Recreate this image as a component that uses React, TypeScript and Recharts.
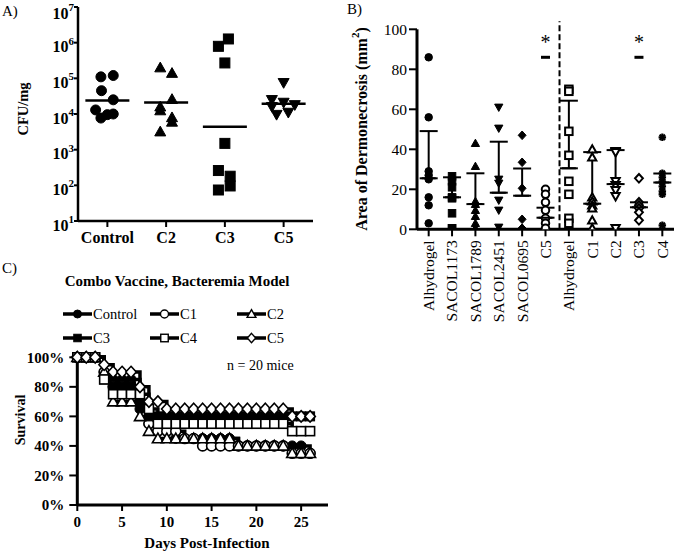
import React from 'react'
import {
  ScatterChart, Scatter, LineChart, Line, XAxis, YAxis, ErrorBar, ReferenceLine,
} from 'recharts'

const SERIF = "'Liberation Serif', 'Times New Roman', serif"

// ---- A) CFU/mg (log)
const groupsA = ['Control', 'C2', 'C3', 'C5']
const controlCfu = [1.1e5, 1.2e5, 4.5e4, 2.5e4, 1.3e4, 7.7e3, 9.6e3, 1e4]
const c2Cfu = [2e5, 1.4e5, 2.6e4, 1.6e4, 1.25e4, 8e3, 6e3, 3.2e3]
const c3Cfu = [7.9e5, 1.27e6, 2.7e5, 1.5e3, 260, 180, 96, 74]
const c5Cfu = [7.5e4, 1.8e4, 2.5e4, 2.1e4, 1.6e4, 9.6e3, 1.1e4]
const mediansA = [2.4e4, 2.1e4, 4.4e3, 1.95e4]
const logTicks = [1e1, 1e2, 1e3, 1e4, 1e5, 1e6, 1e7]

// ---- B) dermonecrosis area
const groupsB = ['Alhydrogel', 'SACOL1173', 'SACOL1789', 'SACOL2451', 'SACOL0695', 'C5',
  'Alhydrogel', 'C1', 'C2', 'C3', 'C4']
const alhydrogel1 = [86, 56, 29, 27, 25, 16, 12, 3]
const sacol1173 = [26.5, 24, 21, 16, 15.5, 8, 0.5, 0.5]
const sacol1789 = [43, 31.5, 14, 12.5, 9.5, 6.5, 3, 0.5]
const sacol2451 = [61, 50.5, 25, 23, 14.5, 9.5, 1]
const sacol0695 = [47, 33.5, 20.5, 5, 0.5, 0.5]
const c5Derm = [20, 17.5, 13.5, 9.5, 5.5, 3, 0.5]
const alhydrogel2 = [70, 69, 49, 37, 24, 17.5, 5.5, 3]
const c1Derm = [40, 36, 16, 14, 12, 10.5, 4.5, 0.5]
const c2Derm = [39, 38.5, 24, 22, 19.5, 16.5, 0.5]
const c3Derm = [25.5, 13.5, 12, 10.5, 8.5, 4.5]
const c4Derm = [46, 28, 26, 24, 21.5, 19, 17.5, 2]
const meansB = [25.5, 16, 12.6, 18.3, 16.8, 5.8, 30.5, 12.8, 22.6, 11, 23.4]
const sdsB = [23.6, 10, 15.4, 25.5, 13.6, 5, 33.8, 25.8, 17, 2.5, 4.5]
const sigGroups = [5, 9]
const sigStar = 95
const sigDash = 86

// ---- C) survival
const days = [0, 1, 2, 3, 4, 5, 6, 7, 8, 9, 10, 11, 12, 13, 14, 15, 16, 17, 18, 19, 20, 21, 22, 23, 24, 25, 26]
const controlSurv = [100, 100, 100, 90, 85, 85, 85, 65, 55, 50, 50, 45, 45, 45, 45, 45, 45, 45, 40, 40, 40, 40, 40, 40, 40, 40, 35]
const c1Surv = [100, 100, 100, 90, 80, 80, 80, 70, 55, 50, 50, 50, 45, 45, 40, 40, 40, 40, 40, 40, 40, 40, 40, 40, 35, 35, 35]
const c2Surv = [100, 100, 100, 90, 70, 70, 70, 60, 50, 45, 45, 45, 45, 45, 45, 45, 45, 45, 40, 40, 40, 40, 40, 40, 35, 35, 35]
const c3Surv = [100, 100, 100, 85, 80, 80, 80, 70, 60, 60, 60, 60, 60, 60, 60, 60, 60, 60, 60, 60, 60, 60, 60, 60, 60, 60, 60]
const c4Surv = [100, 100, 100, 85, 75, 75, 75, 75, 65, 55, 55, 55, 55, 55, 55, 55, 55, 55, 55, 55, 55, 55, 55, 55, 50, 50, 50]
const c5Surv = [100, 100, 100, 95, 90, 90, 90, 80, 70, 70, 65, 65, 65, 65, 65, 65, 65, 65, 65, 65, 65, 65, 65, 65, 60, 60, 60]

// horizontal spread of the dots in panel A (fraction of a category)
const jitterA = [
  [-0.11, 0.1, -0.1, 0.1, -0.2, -0.11, 0, 0.1],
  [-0.1, 0.1, 0.1, -0.1, -0.1, 0.1, 0.1, -0.1],
  [-0.11, 0.06, 0, 0, -0.11, 0.09, 0.09, -0.11],
  [0, 0.19, -0.2, 0, -0.2, -0.12, 0.08],
]

type Kind = 'circle' | 'square' | 'triangle' | 'triangleDown' | 'diamond' | 'asterisk'

function Marker({ kind, cx, cy, s, open, sw = 1.6 }: { kind: Kind; cx: number; cy: number; s: number; open?: boolean; sw?: number }) {
  if (cx == null || cy == null) return null
  const h = s / 2
  const p = { fill: open ? '#fff' : '#000', stroke: '#000', strokeWidth: open ? sw : 1 }
  switch (kind) {
    case 'circle':
      return <circle cx={cx} cy={cy} r={h} {...p} />
    case 'square':
      return <rect x={cx - h} y={cy - h} width={s} height={s} {...p} />
    case 'triangle':
      return <polygon points={`${cx},${cy - h * 1.1} ${cx + h * 1.1},${cy + h * 0.85} ${cx - h * 1.1},${cy + h * 0.85}`} {...p} />
    case 'triangleDown':
      return <polygon points={`${cx},${cy + h * 1.1} ${cx + h * 1.1},${cy - h * 0.85} ${cx - h * 1.1},${cy - h * 0.85}`} {...p} />
    case 'diamond':
      return <polygon points={`${cx},${cy - h * 1.15} ${cx + h * 1.05},${cy} ${cx},${cy + h * 1.15} ${cx - h * 1.05},${cy}`} {...p} />
    case 'asterisk': {
      const d = h * 0.72
      return (
        <g stroke="#000" strokeWidth={2.2}>
          <line x1={cx - h} y1={cy} x2={cx + h} y2={cy} />
          <line x1={cx} y1={cy - h} x2={cx} y2={cy + h} />
          <line x1={cx - d} y1={cy - d} x2={cx + d} y2={cy + d} />
          <line x1={cx - d} y1={cy + d} x2={cx + d} y2={cy - d} />
        </g>
      )
    }
  }
  return null
}

const PowTick = ({ x, y, payload }: any) => {
  const exp = Math.round(Math.log10(payload.value))
  return (
    <text x={x} y={y} dy={9.5} textAnchor="end" fontFamily={SERIF} fontWeight="bold" fontSize={16} fill="#000">
      10<tspan dy={-7.5} fontSize={11}>{exp}</tspan>
    </text>
  )
}

const RotTick = ({ x, y, payload }: any) => (
  <text x={x} y={y} dy="0.35em" transform={`rotate(-90, ${x}, ${y})`} textAnchor="end"
    fontFamily={SERIF} fontSize={15.5} fill="#000">
    {groupsB[Math.round(payload.value)]}
  </text>
)

const axisLine = (w: number) => ({ stroke: '#000', strokeWidth: w })
const tickLine = { stroke: '#000', strokeWidth: 2 }

const seriesA: { vals: number[]; kind: Kind }[] = [
  { vals: controlCfu, kind: 'circle' },
  { vals: c2Cfu, kind: 'triangle' },
  { vals: c3Cfu, kind: 'square' },
  { vals: c5Cfu, kind: 'triangleDown' },
]

const seriesB: { vals: number[]; kind: Kind; open: boolean }[] = [
  { vals: alhydrogel1, kind: 'circle', open: false },
  { vals: sacol1173, kind: 'square', open: false },
  { vals: sacol1789, kind: 'triangle', open: false },
  { vals: sacol2451, kind: 'triangleDown', open: false },
  { vals: sacol0695, kind: 'diamond', open: false },
  { vals: c5Derm, kind: 'circle', open: true },
  { vals: alhydrogel2, kind: 'square', open: true },
  { vals: c1Derm, kind: 'triangle', open: true },
  { vals: c2Derm, kind: 'triangleDown', open: true },
  { vals: c3Derm, kind: 'diamond', open: true },
  { vals: c4Derm, kind: 'asterisk', open: false },
]

const seriesC: { key: string; name: string; vals: number[]; kind: Kind; open: boolean }[] = [
  { key: 'control', name: 'Control', vals: controlSurv, kind: 'circle', open: false },
  { key: 'c1', name: 'C1', vals: c1Surv, kind: 'circle', open: true },
  { key: 'c2', name: 'C2', vals: c2Surv, kind: 'triangle', open: true },
  { key: 'c3', name: 'C3', vals: c3Surv, kind: 'square', open: false },
  { key: 'c4', name: 'C4', vals: c4Surv, kind: 'square', open: true },
  { key: 'c5', name: 'C5', vals: c5Surv, kind: 'diamond', open: true },
]

const survival = days.map((d, i) => {
  const row: any = { day: d }
  seriesC.forEach((s) => { row[s.key] = s.vals[i] })
  return row
})

// only the upper SD whisker is drawn in the original
const meanPtsB = meansB.map((m, i) => ({ x: i, y: m, err: [0, sdsB[i]] }))

export default function App() {
  return (
    <div style={{ position: 'absolute', left: 0, top: 0, width: 676, height: 551, background: '#fff', fontFamily: SERIF }}>
      {/* A */}
      <div style={{ position: 'absolute', left: 0, top: 0 }}>
        <ScatterChart width={340} height={260} margin={{ top: 7, right: 27, bottom: 9, left: 18 }}>
          <XAxis type="number" dataKey="x" domain={[0.5, 4.5]} ticks={[1, 2, 3, 4]} allowDataOverflow
            tickFormatter={(v: number) => groupsA[Math.round(v) - 1]} height={30}
            axisLine={axisLine(2.5)} tickLine={tickLine} tickSize={6} tickMargin={5}
            tick={{ fill: '#000', fontFamily: SERIF, fontWeight: 'bold', fontSize: 16 }} />
          <YAxis type="number" dataKey="y" scale="log" domain={[10, 1e7]} ticks={logTicks} allowDataOverflow
            width={60} tick={<PowTick />} tickSize={4} tickMargin={0}
            axisLine={axisLine(2.5)} tickLine={tickLine} />
          {seriesA.map((s, gi) => (
            <Scatter key={gi} isAnimationActive={false}
              data={s.vals.map((v, i) => ({ x: gi + 1 + (jitterA[gi][i] ?? 0), y: v }))}
              shape={(p: any) => <Marker kind={s.kind} cx={p.cx} cy={p.cy} s={10} />} />
          ))}
          <Scatter isAnimationActive={false}
            data={mediansA.map((m, i) => ({ x: i + 1, y: m }))}
            shape={(p: any) => <line x1={p.cx - 22} x2={p.cx + 22} y1={p.cy} y2={p.cy} stroke="#000" strokeWidth={2.5} />} />
        </ScatterChart>
      </div>

      {/* B */}
      <div style={{ position: 'absolute', left: 340, top: 0 }}>
        <ScatterChart width={336} height={340} margin={{ top: 29.3, right: 2, bottom: 10.7, left: 17 }}>
          <XAxis type="number" dataKey="x" domain={[-0.5, 10.5]} ticks={[0, 1, 2, 3, 4, 5, 6, 7, 8, 9, 10]}
            allowDataOverflow height={100} axisLine={axisLine(3)} tickLine={tickLine} tickSize={7} tickMargin={4}
            tick={<RotTick />} />
          <YAxis type="number" dataKey="y" domain={[0, 100]} ticks={[0, 20, 40, 60, 80, 100]} allowDataOverflow
            width={60} axisLine={axisLine(3)} tickLine={tickLine} tickSize={8} tickMargin={2}
            tick={{ fill: '#000', fontFamily: SERIF, fontSize: 15.5 }} />
          <ReferenceLine segment={[{ x: 5.6, y: 0 }, { x: 5.6, y: 104 }]} ifOverflow="visible"
            stroke="#000" strokeWidth={2} strokeDasharray="6 3" />
          {seriesB.map((s, gi) => (
            <Scatter key={gi} isAnimationActive={false}
              data={s.vals.map((v) => ({ x: gi, y: v }))}
              shape={(p: any) => <Marker kind={s.kind} cx={p.cx} cy={p.cy} s={7.5} open={s.open} sw={2} />} />
          ))}
          <Scatter isAnimationActive={false} data={meanPtsB}
            shape={(p: any) => <line x1={p.cx - 7} x2={p.cx + 7} y1={p.cy} y2={p.cy} stroke="#000" strokeWidth={2} />}>
            <ErrorBar dataKey="err" direction="y" width={9} stroke="#000" strokeWidth={2} isAnimationActive={false} />
          </Scatter>
          <Scatter isAnimationActive={false} data={sigGroups.map((g) => ({ x: g, y: sigDash }))}
            shape={(p: any) => <rect x={p.cx - 4.5} y={p.cy - 1.5} width={9} height={3} fill="#000" />} />
          <Scatter isAnimationActive={false} data={sigGroups.map((g) => ({ x: g, y: sigStar }))}
            shape={(p: any) => (
              <text x={p.cx} y={p.cy + 10} textAnchor="middle" fontFamily={SERIF} fontSize={20} fill="#000">*</text>
            )} />
        </ScatterChart>
      </div>

      {/* C */}
      <div style={{ position: 'absolute', left: 0, top: 270 }}>
        <LineChart width={340} height={281} data={survival} margin={{ top: 87.3, right: 12, bottom: 16, left: 17.3 }}>
          <XAxis type="number" dataKey="day" domain={[0, 28]} ticks={[0, 5, 10, 15, 20, 25]} height={30}
            axisLine={axisLine(3)} tickLine={tickLine} tickSize={6} tickMargin={5}
            tick={{ fill: '#000', fontFamily: SERIF, fontWeight: 'bold', fontSize: 15 }} />
          <YAxis type="number" domain={[0, 100]} ticks={[0, 20, 40, 60, 80, 100]} width={60}
            tickFormatter={(v: number) => `${v}%`}
            axisLine={axisLine(3)} tickLine={tickLine} tickSize={8} tickMargin={5}
            tick={{ fill: '#000', fontFamily: SERIF, fontWeight: 'bold', fontSize: 15 }} />
          {seriesC.map((s) => (
            <Line key={s.key} dataKey={s.key} type="stepAfter" stroke="#000" strokeWidth={3.5}
              isAnimationActive={false} activeDot={false}
              dot={(p: any) => <Marker key={`${s.key}-${p.index}`} kind={s.kind} cx={p.cx} cy={p.cy} s={s.kind === 'square' ? 9 : 10} open={s.open} sw={1.6} />} />
          ))}
        </LineChart>
      </div>

      {/* titles, axis labels, legend */}
      <svg width={676} height={551} style={{ position: 'absolute', left: 0, top: 0, pointerEvents: 'none' }}
        fontFamily={SERIF} fill="#000">
        <text x={2} y={16} fontSize={15}>A)</text>
        <text x={347} y={14} fontSize={15}>B)</text>
        <text x={2} y={273} fontSize={15}>C)</text>

        <text x={23} y={109} fontSize={14.5} fontWeight="bold" textAnchor="middle" dominantBaseline="central"
          transform="rotate(-90, 23, 109)">CFU/mg</text>

        <text x={361} y={129} fontSize={16} fontWeight="bold" textAnchor="middle" dominantBaseline="central"
          transform="rotate(-90, 361, 129)">Area of Dermonecrosis (mm<tspan dy={-6} fontSize={11}>2</tspan><tspan dy={6}>)</tspan></text>

        <text x={177} y={286} fontSize={15} fontWeight="bold" textAnchor="middle">Combo Vaccine, Bacteremia Model</text>
        {seriesC.map((s, i) => {
          const x = [63, 150, 237][i % 3]
          const y = [314, 338][Math.floor(i / 3)]
          return (
            <g key={s.key}>
              <line x1={x} x2={x + 29} y1={y} y2={y} stroke="#000" strokeWidth={3.5} />
              <Marker kind={s.kind} cx={x + 14.5} cy={y} s={s.kind === 'square' ? 7.5 : 8} open={s.open} sw={1.4} />
              <text x={x + 30} y={y + 5} fontSize={14.5}>{s.name}</text>
            </g>
          )
        })}
        <text x={227} y={370} fontSize={14}>n = 20 mice</text>
        <text x={20} y={420} fontSize={14} fontWeight="bold" textAnchor="middle" dominantBaseline="central"
          transform="rotate(-90, 20, 420)">Survival</text>
        <text x={207} y={548} fontSize={15} fontWeight="bold" textAnchor="middle">Days Post-Infection</text>
      </svg>
    </div>
  )
}
